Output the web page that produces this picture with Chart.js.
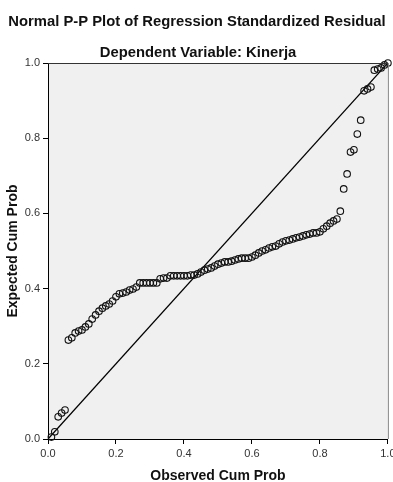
<!DOCTYPE html>
<html><head><meta charset="utf-8">
<script src="https://cdn.jsdelivr.net/npm/chart.js@4/dist/chart.umd.min.js"></script>
<style>html,body{margin:0;padding:0;background:#fff}canvas{display:block}</style>
</head><body>
<canvas id="c" width="393" height="482"></canvas>
<script>
const chartTitle = 'Normal P-P Plot of Regression Standardized Residual';
const chartSubtitle = 'Dependent Variable: Kinerja';
const xAxisTitle = 'Observed Cum Prob';
const yAxisTitle = 'Expected Cum Prob';
const tickValues = [0, 0.2, 0.4, 0.6, 0.8, 1.0];
const tickLabels = ['0.0', '0.2', '0.4', '0.6', '0.8', '1.0'];
const referenceLineX = [0, 1];
const referenceLineY = [0, 1];
const observedCumProb = [
  0.01,0.02,0.03,0.04,0.05,0.06,0.07,0.08,0.09,0.10,
  0.11,0.12,0.13,0.14,0.15,0.16,0.17,0.18,0.19,0.20,
  0.21,0.22,0.23,0.24,0.25,0.26,0.27,0.28,0.29,0.30,
  0.31,0.32,0.33,0.34,0.35,0.36,0.37,0.38,0.39,0.40,
  0.41,0.42,0.43,0.44,0.45,0.46,0.47,0.48,0.49,0.50,
  0.51,0.52,0.53,0.54,0.55,0.56,0.57,0.58,0.59,0.60,
  0.61,0.62,0.63,0.64,0.65,0.66,0.67,0.68,0.69,0.70,
  0.71,0.72,0.73,0.74,0.75,0.76,0.77,0.78,0.79,0.80,
  0.81,0.82,0.83,0.84,0.85,0.86,0.87,0.88,0.89,0.90,
  0.91,0.92,0.93,0.94,0.95,0.96,0.97,0.98,0.99,1.00
];
const expectedCumProb = [
  0.005,0.019,0.059,0.069,0.077,0.263,0.269,0.282,0.287,0.290,
  0.298,0.306,0.319,0.330,0.340,0.348,0.354,0.359,0.367,0.378,
  0.386,0.388,0.391,0.396,0.399,0.404,0.415,0.415,0.415,0.415,
  0.415,0.415,0.426,0.428,0.428,0.434,0.434,0.434,0.434,0.434,
  0.434,0.436,0.436,0.439,0.444,0.449,0.452,0.455,0.460,0.465,
  0.468,0.471,0.471,0.473,0.476,0.479,0.481,0.481,0.481,0.484,
  0.489,0.495,0.500,0.503,0.508,0.511,0.513,0.519,0.524,0.527,
  0.529,0.532,0.535,0.537,0.540,0.543,0.545,0.548,0.548,0.551,
  0.559,0.566,0.574,0.580,0.585,0.606,0.665,0.705,0.763,0.769,
  0.811,0.848,0.926,0.931,0.936,0.981,0.984,0.987,0.995,1.000
];

const FONT = "'Liberation Sans', Arial, sans-serif";

const framePlugin = {
  id: 'frame',
  beforeDraw(chart) {
    const {ctx, chartArea: a} = chart;
    ctx.save();
    ctx.fillStyle = '#f0f0f0';
    ctx.fillRect(a.left, a.top, a.right - a.left, a.bottom - a.top);
    ctx.restore();
  },
  afterDatasetsDraw(chart) {
    const {ctx, chartArea: a} = chart;
    ctx.save();
    ctx.lineWidth = 1;
    ctx.strokeStyle = '#333';
    ctx.beginPath();
    ctx.moveTo(a.left, a.top + 0.5);
    ctx.lineTo(a.right, a.top + 0.5);
    ctx.stroke();
    ctx.strokeStyle = '#888';
    ctx.beginPath();
    ctx.moveTo(a.right + 0.5, a.top);
    ctx.lineTo(a.right + 0.5, a.bottom);
    ctx.stroke();
    ctx.restore();
  },
  afterDraw(chart) {
    const {ctx} = chart;
    ctx.save();
    ctx.fillStyle = '#111';
    ctx.font = 'bold 14.8px ' + FONT;
    ctx.textAlign = 'center';
    ctx.textBaseline = 'alphabetic';
    ctx.fillText(chartTitle, 197, 26);
    ctx.fillText(chartSubtitle, 198, 57);
    ctx.restore();
  }
};

new Chart(document.getElementById('c'), {
  type: 'scatter',
  data: {
    datasets: [
      {
        type: 'line',
        data: referenceLineX.map((x, i) => ({x, y: referenceLineY[i]})),
        borderColor: '#000',
        borderWidth: 1.3,
        pointRadius: 0,
        fill: false,
        order: 2
      },
      {
        data: observedCumProb.map((x, i) => ({x, y: expectedCumProb[i]})),
        pointStyle: 'circle',
        pointRadius: 3.3,
        borderWidth: 1.1,
        borderColor: '#111',
        backgroundColor: 'rgba(0,0,0,0)',
        clip: false,
        order: 1
      }
    ]
  },
  options: {
    responsive: false,
    animation: false,
    events: [],
    layout: {padding: {top: 63, right: 5, bottom: 0, left: 0}},
    plugins: {legend: {display: false}, tooltip: {enabled: false}, title: {display: false}},
    scales: {
      x: {
        type: 'linear', min: 0, max: 1,
        afterBuildTicks(s) { s.ticks = tickValues.map(v => ({value: v})); },
        afterFit(s) { s.height = 43; s.paddingLeft = 0; s.paddingRight = 0; },
        ticks: {
          callback: (v) => tickLabels[tickValues.findIndex(t => Math.abs(t - v) < 1e-9)],
          font: {family: FONT, size: 11}, color: '#333', padding: 3, maxRotation: 0, autoSkip: false
        },
        grid: {drawOnChartArea: false, drawTicks: true, tickLength: 5, color: '#000'},
        border: {display: true, color: '#000', width: 1},
        title: {display: true, text: xAxisTitle, font: {family: FONT, size: 14, weight: 'bold'}, color: '#111', padding: {top: 0, bottom: -3}}
      },
      y: {
        type: 'linear', min: 0, max: 1,
        afterBuildTicks(s) { s.ticks = tickValues.map(v => ({value: v})); },
        afterFit(s) { s.width = 48; },
        ticks: {
          callback: (v) => tickLabels[tickValues.findIndex(t => Math.abs(t - v) < 1e-9)],
          font: {family: FONT, size: 11}, color: '#333', padding: 3, autoSkip: false
        },
        grid: {drawOnChartArea: false, drawTicks: true, tickLength: 5, color: '#000'},
        border: {display: true, color: '#000', width: 1},
        title: {display: true, text: yAxisTitle, font: {family: FONT, size: 14, weight: 'bold'}, color: '#111', padding: {top: 5, bottom: 0}}
      }
    }
  },
  plugins: [framePlugin]
});
</script>
</body></html>
